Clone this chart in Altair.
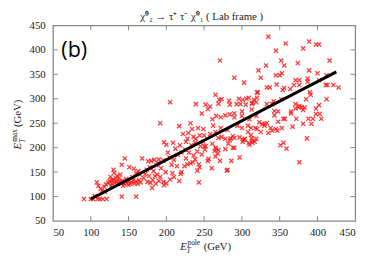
import altair as alt
import pandas as pd

# --- data (GeV) ---
ex_pole = [
    91, 100, 103, 109, 112, 116, 121, 141, 160, 105,
    108, 110, 113, 115, 118, 120, 123, 125, 128, 130, 132, 134, 136, 138, 140, 142, 144, 146, 148, 150,
    152, 154, 156, 158, 160, 162, 164, 166, 126, 135, 128, 137, 147, 155, 170, 172, 165, 160, 175, 150,
    143, 130, 131, 145, 141, 151, 157, 168, 163, 139, 133, 127, 119,
    176, 180, 184, 190, 196, 178, 183, 188, 192, 196, 186, 182, 199, 187, 193, 177, 197, 174, 179, 190,
    185, 192, 200, 197, 189, 181,
    200, 205, 208, 210, 217, 219, 220, 224, 228, 232, 235, 243, 243, 241, 244, 255, 260, 256, 204, 210,
    215, 220, 212, 225, 230, 236, 241, 247, 251, 207, 214, 226, 238, 245, 250, 252, 261, 264, 266, 269,
    271, 278, 281, 286, 297, 280, 265, 268, 265, 202, 209, 218,
    205, 217, 222, 232, 239, 228, 233, 238, 249, 234, 242, 249, 239, 247, 252, 255, 258, 258, 250, 244,
    229, 236, 226,
    269, 273, 278, 285, 290, 297, 304, 313, 282, 284, 288, 301, 303, 309, 314, 319, 288, 290, 265, 272,
    262, 281, 294, 300, 308, 312, 320, 330, 335, 345,
    261, 266, 272, 278, 284, 290, 300, 310, 319, 269, 284, 290, 300, 305, 313, 265, 273, 283, 293, 298,
    301, 309, 320, 316, 306, 314, 319, 270, 296,
    271, 290, 303, 320, 321, 322, 325, 332, 335, 345, 345, 350, 353, 356, 352, 358, 381, 389, 398, 402,
    374, 416, 389, 400, 412, 371, 376, 387, 387, 402, 411, 413, 421, 428, 346, 333, 337, 354, 356, 364,
    369, 376, 390, 391, 385, 402, 412, 333, 340, 342, 352, 371, 375, 381, 379, 365, 355, 357, 372, 388,
    394, 403, 405, 367, 327, 333, 338, 353, 313,
    376, 351, 355, 359, 386, 381, 392, 398, 371, 376, 383, 398, 365, 343, 348, 343, 348, 330, 340, 347,
    312, 318, 323, 310, 314, 317, 302, 308, 325,
]
ex_max = [
    95, 95, 95, 95, 95, 95, 95, 100, 100, 101,
    129, 122, 116, 112, 120, 125, 128, 131, 126, 135, 128, 131, 126, 130, 128, 133, 126, 130, 127, 131,
    126, 129, 133, 127, 131, 126, 134, 129, 140, 142, 133, 137, 136, 140, 138, 146, 145, 148, 130, 124,
    122, 155, 148, 178, 165, 160, 157, 178, 152, 145, 138, 122, 110,
    172, 173, 175, 176, 174, 160, 152, 145, 140, 130, 126, 134, 150, 164, 158, 142, 123, 155, 128, 132,
    142, 250, 206, 211, 168, 118,
    127, 135, 148, 140, 132, 146, 150, 162, 166, 168, 170, 166, 129, 153, 160, 173, 158, 177, 180, 175,
    185, 190, 198, 196, 190, 184, 192, 186, 196, 165, 162, 178, 176, 203, 203, 203, 208, 193, 197, 195,
    173, 197, 155, 173, 180, 153, 182, 188, 200, 190, 210, 205,
    293, 244, 228, 250, 218, 218, 205, 210, 212, 238, 240, 238, 289, 270, 288, 279, 284, 228, 225, 225,
    230, 222, 212,
    220, 222, 218, 219, 220, 221, 218, 219, 208, 215, 224, 212, 216, 210, 214, 218, 200, 200, 232, 240,
    245, 236, 245, 240, 232, 240, 238, 245, 230, 238,
    258, 265, 262, 266, 268, 262, 265, 258, 265, 290, 288, 270, 274, 288, 290, 308, 299, 296, 289, 289,
    298, 302, 302, 298, 300, 291, 293, 298, 300,
    378, 343, 333, 313, 313, 358, 343, 368, 427, 398, 348, 348, 352, 368, 378, 413, 403, 417, 411, 411,
    373, 378, 358, 352, 348, 338, 338, 335, 341, 338, 328, 328, 328, 323, 329, 323, 323, 318, 322, 320,
    328, 328, 313, 308, 299, 287, 299, 289, 289, 295, 299, 289, 282, 277, 283, 270, 259, 259, 259, 259,
    259, 269, 259, 243, 248, 250, 240, 240, 278,
    170, 205, 210, 198, 219, 249, 249, 269, 280, 285, 282, 280, 274, 266, 274, 275, 253, 249, 235, 235,
    226, 240, 252, 206, 210, 212, 215, 245, 232,
]
fit_x = [100, 425]
fit_y = [95, 355]
axis_values = [50, 100, 150, 200, 250, 300, 350, 400, 450]
inner_ticks = [100, 150, 200, 250, 300, 350, 400]

title_text = "χ̃⁰₂ → τ⁺ τ⁻ χ̃⁰₁  ( Lab frame )"

W, H = 309, 200
SERIF = "Liberation Serif"

xs = alt.Scale(domain=[50, 450], nice=False, zero=False)
ys = alt.Scale(domain=[50, 450], nice=False, zero=False)
xaxis = alt.Axis(values=axis_values, ticks=False, domain=False, grid=False, title=None,
                 labelFont=SERIF, labelFontSize=11, labelColor="#222", labelPadding=6)
yaxis = alt.Axis(values=axis_values, ticks=False, domain=False, grid=False, title=None,
                 labelFont=SERIF, labelFontSize=11, labelColor="#222", labelPadding=8)

pts = pd.DataFrame({"x": ex_pole, "y": ex_max})
fit = pd.DataFrame({"x": fit_x, "y": fit_y})
tk = pd.DataFrame({"t": inner_ticks})
one = pd.DataFrame({"a": [0]})

points = alt.Chart(pts).mark_point(
    shape="M-1,-1L1,1M-1,1L1,-1", filled=False, color="#ff1a1a",
    strokeWidth=1.3, size=18, opacity=0.85
).encode(x=alt.X("x:Q", scale=xs, axis=xaxis), y=alt.Y("y:Q", scale=ys, axis=yaxis))

line = alt.Chart(fit).mark_line(color="black", strokeWidth=3).encode(
    x=alt.X("x:Q", scale=xs, axis=xaxis), y=alt.Y("y:Q", scale=ys, axis=yaxis))

tcol = "#888888"
tb = alt.Chart(tk).mark_rule(color=tcol, strokeWidth=1).encode(
    x=alt.X("t:Q", scale=xs, axis=xaxis), y=alt.value(H), y2=alt.value(H - 5))
tt = alt.Chart(tk).mark_rule(color=tcol, strokeWidth=1).encode(
    x=alt.X("t:Q", scale=xs, axis=xaxis), y=alt.value(0), y2=alt.value(5))
tl = alt.Chart(tk).mark_rule(color=tcol, strokeWidth=1).encode(
    y=alt.Y("t:Q", scale=ys, axis=yaxis), x=alt.value(0), x2=alt.value(5))
tr = alt.Chart(tk).mark_rule(color=tcol, strokeWidth=1).encode(
    y=alt.Y("t:Q", scale=ys, axis=yaxis), x=alt.value(W), x2=alt.value(W - 5))


def txt(s, x, y, size, font=SERIF, style="normal", angle=0, align="left", color="#222"):
    kw = dict(text=s, font=font, fontSize=size, fontStyle=style, align=align,
              baseline="alphabetic", color=color)
    if angle:
        kw["angle"] = angle
    return alt.Chart(one).mark_text(**kw).encode(x=alt.value(x), y=alt.value(y))


texts = [
    txt(title_text, 152, -6, 11, align="center"),
    txt("(b)", 8.5, 32, 22, font="Open Sans", color="black"),
    # x title
    txt("E", 130, 229.5, 11, style="italic"),
    txt("T", 136.5, 232.5, 7.5, style="italic"),
    txt("pole", 137.5, 224.5, 7.5),
    txt("(GeV)", 154, 229.5, 11),
    # y title
    txt("E", -33, 127, 11, style="italic", angle=270),
    txt("max", -37, 119, 7.5, angle=270),
    txt("T", -29, 120, 7.5, style="italic", angle=270),
    txt("(GeV)", -33, 104, 11, angle=270),
]

chart = alt.layer(points, line, tb, tt, tl, tr, *texts).properties(
    width=W, height=H,
    autosize=alt.AutoSizeParams(type="none"),
    padding={"left": 46, "top": 15, "right": 11, "bottom": 33},
).configure_view(stroke="#888888", strokeWidth=1.3)

chart.save("out.html", embed_options={"renderer": "svg", "actions": False})
